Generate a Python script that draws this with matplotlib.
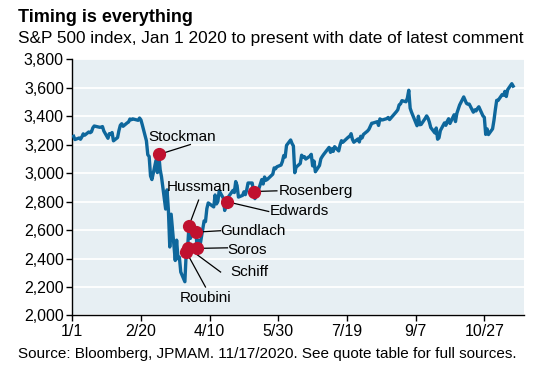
import matplotlib
matplotlib.use("Agg")
import matplotlib.pyplot as plt
from matplotlib.ticker import FuncFormatter
import pandas as pd

plt.rcParams['font.family'] = ['Liberation Sans', 'DejaVu Sans']

# S&P 500 daily closes, 2020 (month/day)
dates = ['1/2', '1/3', '1/6', '1/7', '1/8', '1/9', '1/10', '1/13', '1/14', '1/15', '1/16', '1/17',
         '1/21', '1/22', '1/23', '1/24', '1/27', '1/28', '1/29', '1/30', '1/31',
         '2/3', '2/4', '2/5', '2/6', '2/7', '2/10', '2/11', '2/12', '2/13', '2/14', '2/18', '2/19',
         '2/20', '2/21', '2/24', '2/25', '2/26', '2/27', '2/28',
         '3/2', '3/3', '3/4', '3/5', '3/6', '3/9', '3/10', '3/11', '3/12', '3/13', '3/16', '3/17',
         '3/18', '3/19', '3/20', '3/23', '3/24', '3/25', '3/26', '3/27', '3/30', '3/31',
         '4/1', '4/2', '4/3', '4/6', '4/7', '4/8', '4/9', '4/13', '4/14', '4/15', '4/16', '4/17',
         '4/20', '4/21', '4/22', '4/23', '4/24', '4/27', '4/28', '4/29', '4/30',
         '5/1', '5/4', '5/5', '5/6', '5/7', '5/8', '5/11', '5/12', '5/13', '5/14', '5/15', '5/18',
         '5/19', '5/20', '5/21', '5/22', '5/26', '5/27', '5/28', '5/29',
         '6/1', '6/2', '6/3', '6/4', '6/5', '6/8', '6/9', '6/10', '6/11', '6/12', '6/15', '6/16',
         '6/17', '6/18', '6/19', '6/22', '6/23', '6/24', '6/25', '6/26', '6/29', '6/30',
         '7/1', '7/2', '7/6', '7/7', '7/8', '7/9', '7/10', '7/13', '7/14', '7/15', '7/16', '7/17',
         '7/20', '7/21', '7/22', '7/23', '7/24', '7/27', '7/28', '7/29', '7/30', '7/31',
         '8/3', '8/4', '8/5', '8/6', '8/7', '8/10', '8/11', '8/12', '8/13', '8/14', '8/17', '8/18',
         '8/19', '8/20', '8/21', '8/24', '8/25', '8/26', '8/27', '8/28', '8/31',
         '9/1', '9/2', '9/3', '9/4', '9/8', '9/9', '9/10', '9/11', '9/14', '9/15', '9/16', '9/17',
         '9/18', '9/21', '9/22', '9/23', '9/24', '9/25', '9/28', '9/29', '9/30',
         '10/1', '10/2', '10/5', '10/6', '10/7', '10/8', '10/9', '10/12', '10/13', '10/14', '10/15',
         '10/16', '10/19', '10/20', '10/21', '10/22', '10/23', '10/26', '10/27', '10/28', '10/29', '10/30',
         '11/2', '11/3', '11/4', '11/5', '11/6', '11/9', '11/10', '11/11', '11/12', '11/13', '11/16', '11/17']
closes = [3258, 3235, 3246, 3237, 3253, 3275, 3265, 3288, 3283, 3289, 3317, 3330,
          3321, 3322, 3326, 3295, 3244, 3276, 3273, 3284, 3226,
          3249, 3298, 3335, 3346, 3328, 3352, 3358, 3379, 3374, 3380, 3370, 3386,
          3373, 3338, 3226, 3128, 3116, 2979, 2954,
          3090, 3003, 3130, 3024, 2972, 2747, 2882, 2741, 2481, 2711, 2386, 2529,
          2398, 2409, 2305, 2237, 2447, 2476, 2630, 2541, 2627, 2585,
          2471, 2527, 2489, 2664, 2659, 2750, 2790, 2762, 2846, 2783, 2800, 2875,
          2823, 2737, 2799, 2798, 2837, 2878, 2863, 2940, 2912,
          2831, 2843, 2868, 2848, 2881, 2930, 2930, 2870, 2820, 2853, 2864, 2954,
          2923, 2972, 2949, 2955, 2992, 3036, 3030, 3044,
          3056, 3081, 3123, 3112, 3194, 3232, 3207, 3190, 3002, 3041, 3067, 3125,
          3113, 3115, 3098, 3118, 3131, 3050, 3084, 3009, 3053, 3100,
          3116, 3130, 3180, 3145, 3170, 3152, 3185, 3155, 3198, 3227, 3216, 3225,
          3252, 3257, 3276, 3236, 3216, 3239, 3218, 3258, 3246, 3271,
          3295, 3307, 3328, 3349, 3351, 3360, 3334, 3380, 3373, 3373, 3382, 3390,
          3375, 3386, 3397, 3431, 3444, 3479, 3485, 3508, 3500,
          3527, 3581, 3455, 3427, 3332, 3399, 3339, 3341, 3384, 3401, 3385, 3357,
          3319, 3281, 3316, 3237, 3247, 3298, 3352, 3335, 3363,
          3381, 3348, 3409, 3361, 3419, 3447, 3477, 3534, 3512, 3489, 3483,
          3484, 3427, 3443, 3436, 3453, 3465, 3401, 3391, 3271, 3310, 3270,
          3310, 3369, 3443, 3510, 3509, 3551, 3546, 3573, 3537, 3585, 3627, 3610]

# date of latest comment for each commentator
names = ['Stockman', 'Roubini', 'Schiff', 'Hussman', 'Gundlach', 'Soros', 'Edwards', 'Rosenberg']
comment_dates = ['3/4', '3/24', '3/25', '3/26', '3/31', '4/1', '4/23', '5/12']

xtick_labels = ['1/1', '2/20', '4/10', '5/30', '7/19', '9/7', '10/27']

dt = pd.to_datetime(['2020/' + d for d in dates])
s = pd.Series(closes, index=dt)

fig = plt.figure(figsize=(5.6, 3.69), dpi=100)
ax = fig.add_axes([0.129, 0.145, 0.807, 0.695])
ax.set_facecolor('#E7EFF3')

ax.plot(s.index, s.values, color='#0E679C', lw=2.4, solid_joinstyle='round', zorder=3)

# label text anchor (day offset, value, alignment) and leader line end
lab = {
    'Stockman': (80, 3250, 'center'),
    'Hussman': (92, 2905, 'center'),
    'Gundlach': (108, 2595, 'left'),
    'Soros': (113, 2462, 'left'),
    'Schiff': (115, 2305, 'left'),
    'Roubini': (97, 2120, 'center'),
    'Edwards': (144, 2730, 'left'),
    'Rosenberg': (150, 2875, 'left'),
}
line_end = {
    'Stockman': (86, 3200),
    'Hussman': (92, 2810),
    'Gundlach': (108, 2595),
    'Soros': (113, 2475),
    'Schiff': (108, 2305),
    'Roubini': (97, 2200),
    'Edwards': (143, 2730),
    'Rosenberg': (149, 2875),
}
t0 = pd.Timestamp('2020-01-01')
for n, d in zip(names, comment_dates):
    x = pd.Timestamp('2020/' + d)
    y = s[x]
    lx, ly, ha = lab[n]
    ex, ey = line_end[n]
    ax.plot([x, t0 + pd.Timedelta(days=ex)], [y, ey], color='black', lw=0.9, zorder=4)
    ax.plot(x, y, 'o', color='#C0112F', ms=8.5, zorder=5)
    ax.text(t0 + pd.Timedelta(days=lx), ly, n, ha=ha, va='center', fontsize=11, zorder=6)

ax.set_ylim(2000, 3800)
ax.set_yticks(range(2000, 3801, 200))
ax.yaxis.set_major_formatter(FuncFormatter(lambda v, p: f'{int(v):,}'))
ax.set_xlim(t0, t0 + pd.Timedelta(days=329))
xt = [t0 + pd.Timedelta(days=50 * i) for i in range(len(xtick_labels))]
ax.set_xticks(xt)
ax.set_xticklabels(xtick_labels)
ax.grid(axis='y', color='white', lw=1.3)
ax.set_axisbelow(True)
for sp in ['top', 'right']:
    ax.spines[sp].set_visible(False)
for sp in ['left', 'bottom']:
    ax.spines[sp].set_color('black')
    ax.spines[sp].set_linewidth(1)
ax.tick_params(axis='both', direction='out', length=4, width=1, labelsize=11.5, pad=2)

fig.text(0.032, 0.952, 'Timing is everything', fontsize=13, fontweight='bold', va='center')
fig.text(0.032, 0.895, 'S&P 500 index, Jan 1 2020 to present with date of latest comment',
         fontsize=12.4, va='center')
fig.text(0.032, 0.04, 'Source: Bloomberg, JPMAM. 11/17/2020. See quote table for full sources.',
         fontsize=11, va='center')

fig.savefig('out.png', dpi=100)
